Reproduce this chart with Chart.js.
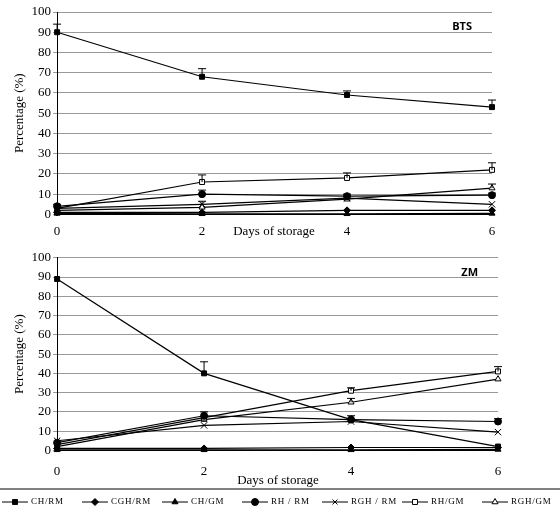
<!DOCTYPE html>
<html>
<head>
<meta charset="utf-8">
<script src="https://cdn.jsdelivr.net/npm/chart.js@4"></script>
<style>
  body { margin: 0; background: #fff; }
  .box { position: absolute; left: 0; width: 560px; }
</style>
</head>
<body>
<div class="box" style="top:0;height:248px"><canvas id="btsChart"></canvas></div>
<div class="box" style="top:248px;height:262px"><canvas id="zmChart"></canvas></div>
<script>
const days = [0, 2, 4, 6];
const seriesNames = ['CH/RM', 'CGH/RM', 'CH/GM', 'RH / RM', 'RGH / RM', 'RH/GM', 'RGH/GM'];
const pointStyles = ['rect', 'rectRot', 'triangle', 'circle', 'crossRot', 'rect', 'triangle'];
const openMarker = [false, false, false, false, false, true, true];
const yTicks = [0, 10, 20, 30, 40, 50, 60, 70, 80, 90, 100];

// BTS panel
const btsValues = [
    [90, 68, 59, 53],
    [1, 1, 2, 2],
    [0.5, 0.3, 0.3, 0.5],
    [4, 10, 9, 9.5],
    [3, 5, 8, 5],
    [3, 16, 18, 22],
    [2, 3.5, 7.5, 13]
];
const btsErrors = [
    [4, 4, 2, 3.5],
    [0, 0, 0, 0],
    [0, 0, 0, 0],
    [1, 2, 1, 1],
    [0, 1.5, 0, 0],
    [0, 3.5, 2.5, 3.5],
    [0, 0, 0, 2]
];

// ZM panel
const zmValues = [
    [89, 40, 16, 2],
    [1, 1, 1.5, 1.5],
    [0.3, 0.3, 0.3, 0.5],
    [4, 18, 16, 15],
    [5, 13, 15, 9.5],
    [3, 17, 31, 41],
    [2, 16, 25, 37]
];
const zmErrors = [
    [0, 6, 2, 0],
    [0, 0, 0, 0],
    [0, 0, 0, 0],
    [0, 2, 0, 1.5],
    [0, 0, 0, 0],
    [0, 0, 1.5, 2.5],
    [0, 0, 2, 0]
];

const serif = '"Liberation Serif", "DejaVu Serif", serif';

// Error bars (upper whisker only)
const errorBars = {
    id: 'errorBars',
    afterDatasetsDraw(chart, args, opts) {
        const ctx = chart.ctx;
        const x = chart.scales.x, y = chart.scales.y;
        ctx.save();
        ctx.strokeStyle = '#000';
        ctx.lineWidth = 1;
        opts.errors.forEach((errs, i) => {
            errs.forEach((e, j) => {
                if (!e) return;
                const v = chart.data.datasets[i].data[j].y;
                const px = x.getPixelForValue(days[j]);
                const p0 = y.getPixelForValue(v), p1 = y.getPixelForValue(v + e);
                ctx.beginPath();
                ctx.moveTo(px, p0); ctx.lineTo(px, p1);
                ctx.moveTo(px - 4, p1); ctx.lineTo(px + 4, p1);
                ctx.stroke();
            });
        });
        ctx.restore();
    }
};

// Panel label and the x title
const panelText = {
    id: 'panelText',
    afterDraw(chart, args, opts) {
        const ctx = chart.ctx;
        const a = chart.chartArea;
        ctx.save();
        ctx.fillStyle = '#000';
        ctx.font = 'bold 11px "Open Sans", sans-serif';
        ctx.textAlign = 'right';
        ctx.fillText(opts.label, a.right - 20, a.top + 18);
        ctx.font = '13px ' + serif;
        ctx.textAlign = 'center';
        ctx.fillText('Days of storage', opts.titleX, a.bottom + opts.titleDy);
        ctx.restore();
    }
};

// Legend row across the bottom
const legendRow = {
    id: 'legendRow',
    afterDraw(chart) {
        const ctx = chart.ctx;
        const yPos = chart.height - 8;
        const step = 80;
        ctx.save();
        ctx.strokeStyle = '#000';
        ctx.beginPath();
        ctx.moveTo(0, yPos - 13); ctx.lineTo(chart.width, yPos - 13);
        ctx.stroke();
        ctx.font = '9px ' + serif;
        ctx.textBaseline = 'middle';
        seriesNames.forEach((name, i) => {
            const x0 = 2 + i * step;
            ctx.lineWidth = 1;
            ctx.beginPath();
            ctx.moveTo(x0, yPos); ctx.lineTo(x0 + 26, yPos);
            ctx.stroke();
            ctx.fillStyle = openMarker[i] ? '#fff' : '#000';
            Chart.helpers.drawPoint(ctx, {pointStyle: pointStyles[i], radius: 3.5, borderWidth: 1}, x0 + 13, yPos);
            ctx.fillStyle = '#000';
            ctx.fillText(name.split('').join('\u200A'), x0 + 29, yPos);
        });
        ctx.restore();
    }
};

function makeDatasets(values) {
    return values.map((vals, i) => ({
        label: seriesNames[i],
        data: vals.map((v, j) => ({x: days[j], y: v})),
        borderColor: '#000',
        borderWidth: 1.2,
        backgroundColor: openMarker[i] ? '#fff' : '#000',
        pointStyle: pointStyles[i],
        pointRadius: pointStyles[i] === 'crossRot' ? 4.5 : 3.5,
        pointBorderColor: '#000',
        pointBorderWidth: 1,
        clip: false,
        tension: 0
    }));
}

function makeOptions(errors, label, padding, titleX, titleDy, tickPad) {
    return {
        responsive: true,
        maintainAspectRatio: false,
        animation: false,
        layout: { padding: padding },
        plugins: {
            legend: { display: false },
            tooltip: { enabled: false },
            errorBars: { errors: errors },
            panelText: { label: label, titleX: titleX, titleDy: titleDy }
        },
        scales: {
            x: {
                type: 'linear', min: 0, max: 6,
                afterBuildTicks: axis => { axis.ticks = days.map(v => ({value: v})); },
                grid: { display: false, drawTicks: true, tickLength: 5, color: '#000' },
                border: { color: '#000' },
                ticks: { color: '#000', font: { family: serif, size: 13 }, maxRotation: 0, padding: tickPad }
            },
            y: {
                min: 0, max: 100,
                afterBuildTicks: axis => { axis.ticks = yTicks.map(v => ({value: v})); },
                grid: { color: '#999', lineWidth: 1, tickLength: 4 },
                border: { color: '#000' },
                ticks: { color: '#000', font: { family: serif, size: 13 }, padding: 2, autoSkip: false },
                title: { display: true, text: 'Percentage (%)', color: '#000', font: { family: serif, size: 13 }, padding: 2 }
            }
        }
    };
}

new Chart(document.getElementById('btsChart'), {
    type: 'line',
    data: { datasets: makeDatasets(btsValues) },
    options: makeOptions(btsErrors, 'BTS', {top: 12, right: 68, bottom: 5, left: 10}, 274, 21, 4),
    plugins: [errorBars, panelText]
});

new Chart(document.getElementById('zmChart'), {
    type: 'line',
    data: { datasets: makeDatasets(zmValues) },
    options: makeOptions(zmErrors, 'ZM', {top: 6, right: 62, bottom: 23, left: 10}, 278, 34, 8),
    plugins: [errorBars, panelText, legendRow]
});
</script>
</body>
</html>
